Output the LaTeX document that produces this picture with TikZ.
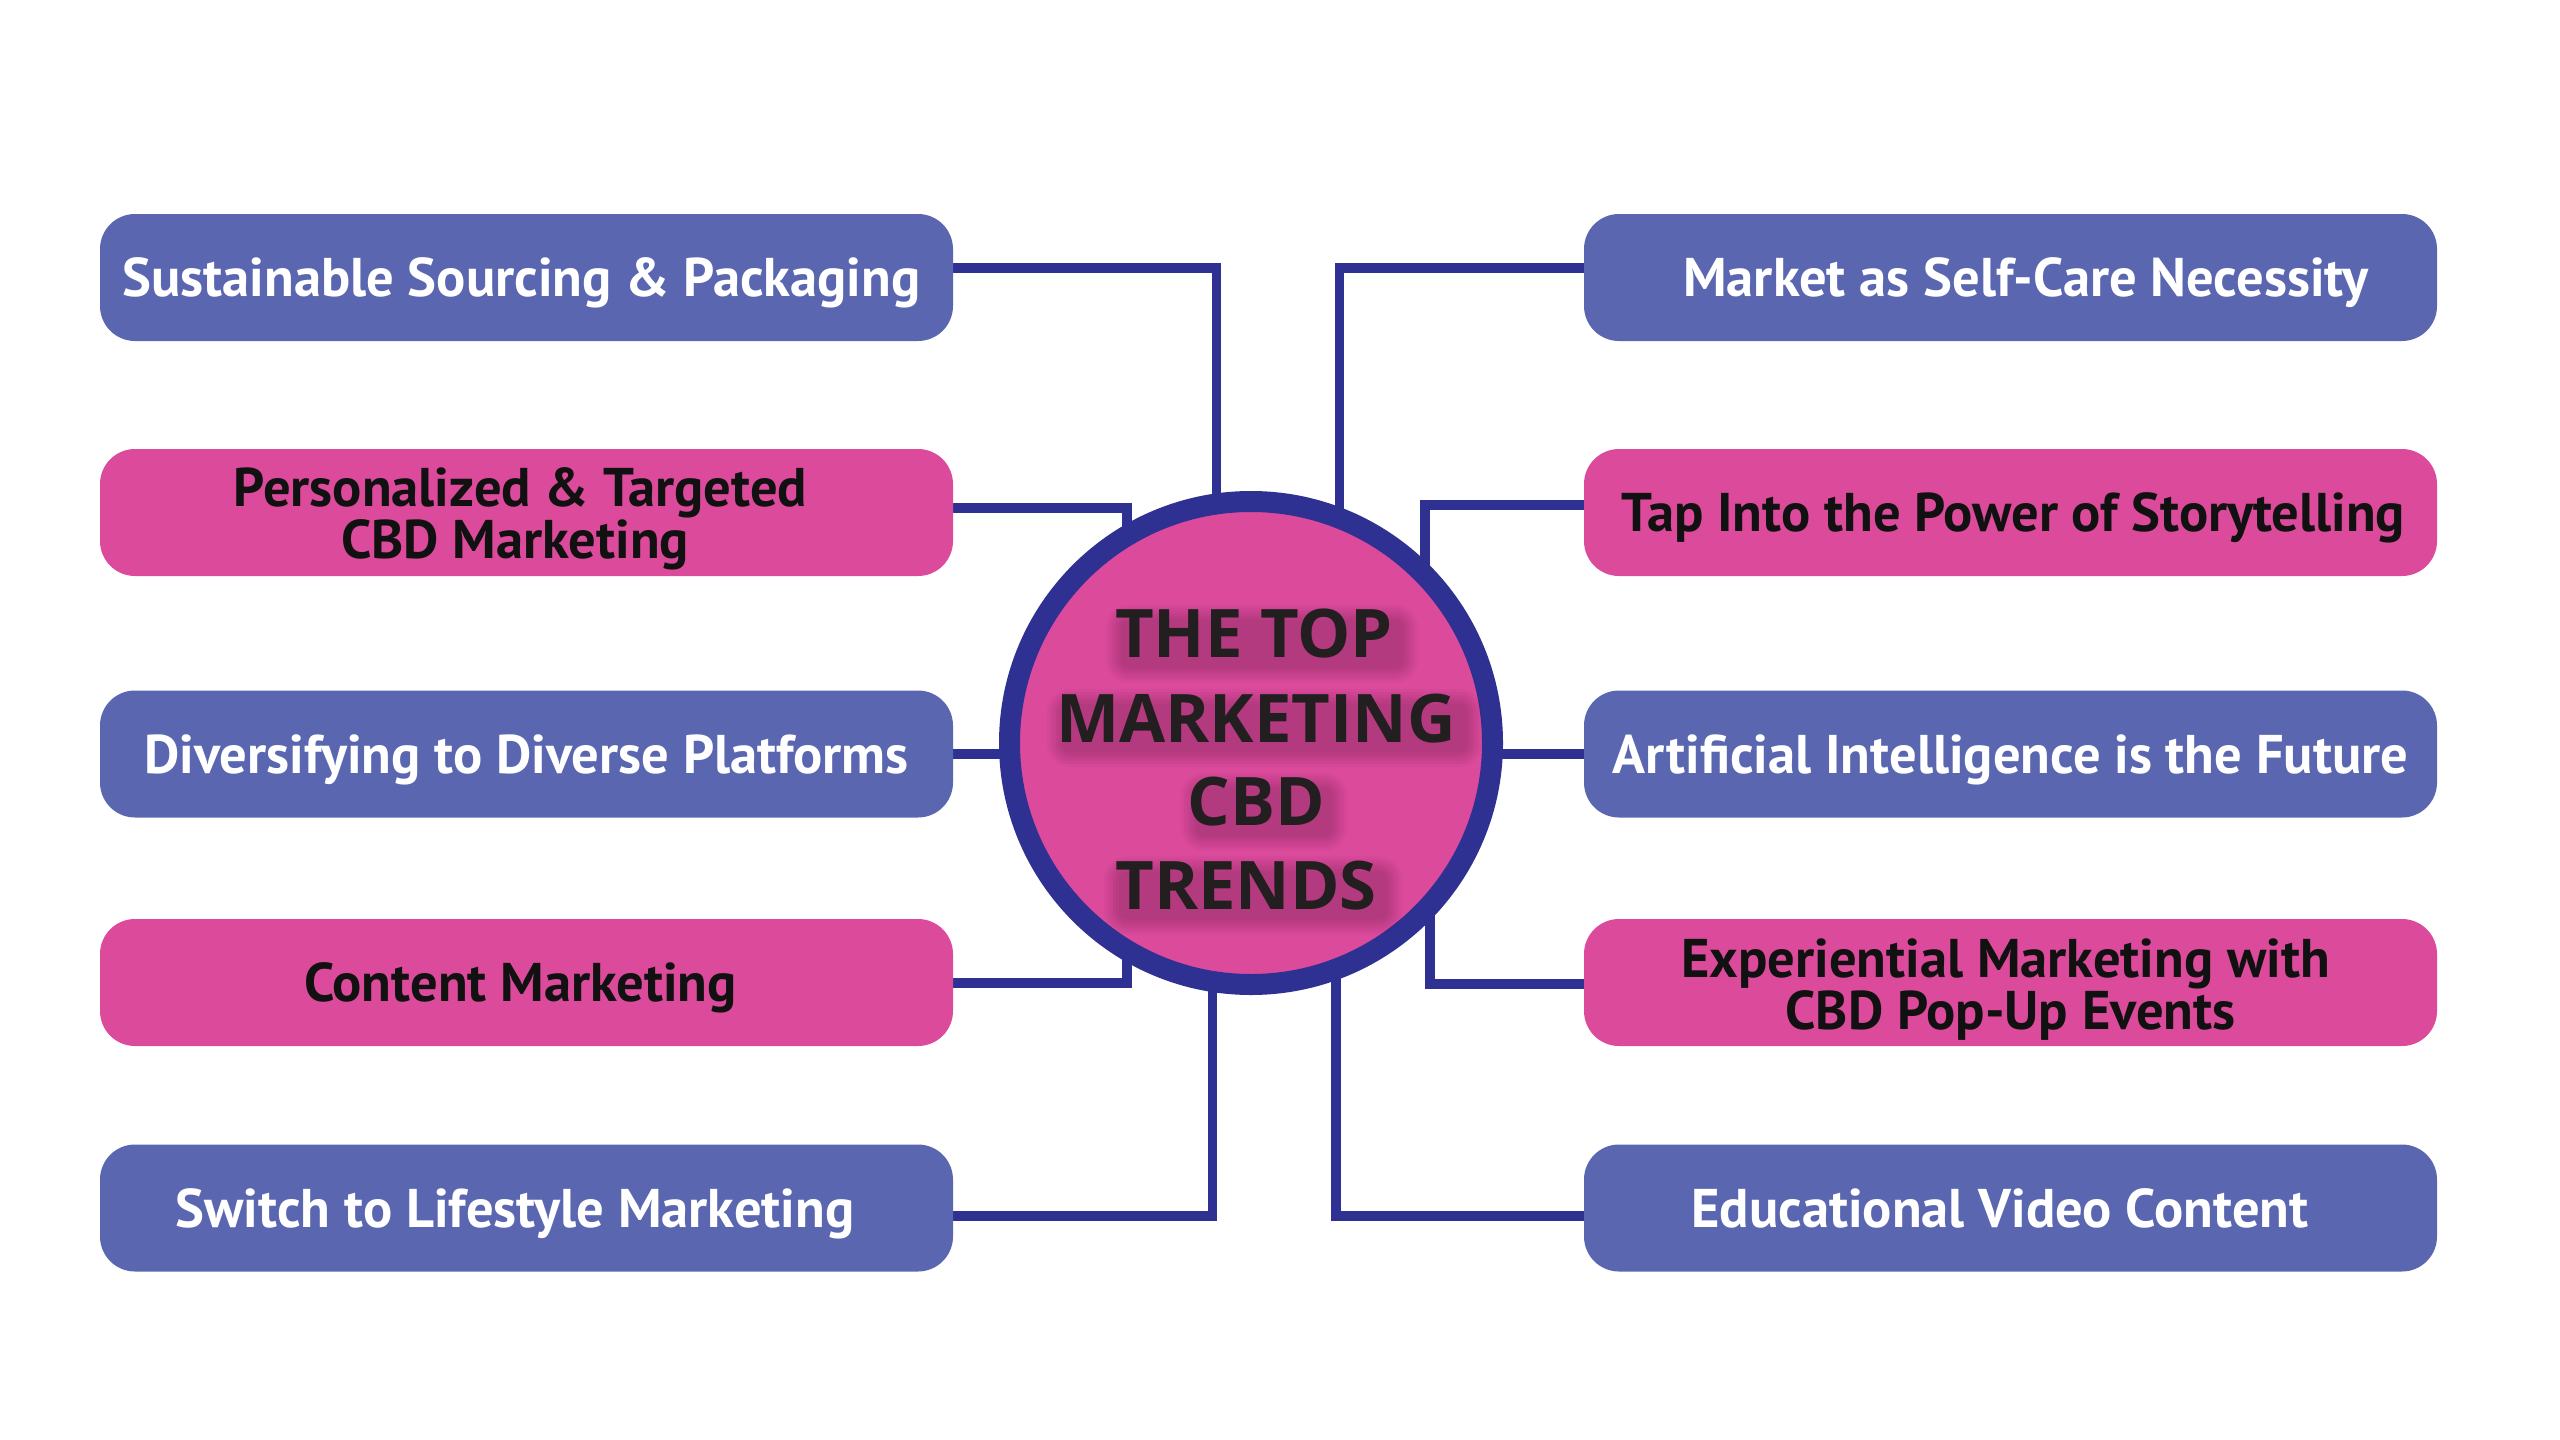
\documentclass[tikz,border=0pt]{standalone}
\usepackage{fontspec}
\usetikzlibrary{backgrounds}
\setmainfont{PT Sans}
\newfontfamily\circfont{Open Sans}
\definecolor{boxblue}{HTML}{5A67B0}
\definecolor{boxpink}{HTML}{DC4A9C}
\definecolor{navy}{HTML}{2E3192}
\definecolor{textdark}{HTML}{111111}
\definecolor{circtext}{HTML}{231F20}
\begin{document}
\begin{tikzpicture}[x=1pt,y=-1pt,
  box/.style={rounded corners=35pt, minimum width=853pt, minimum height=127pt, inner sep=0pt, align=center,
    font=\fontsize{54.5}{52}\selectfont\bfseries},
  oneline/.style={text depth=0pt},
  bluebox/.style={box, fill=boxblue, text=white},
  pinkbox/.style={box, fill=boxpink, text=textdark},
  conn/.style={draw=navy, line width=9.5pt},
  hub/.style={circle, fill=boxpink, draw=navy, line width=21pt, minimum size=483pt, inner sep=0pt},
  hubtext/.style={anchor=base, inner sep=0pt, text=circtext, font=\circfont\fontsize{67}{70}\selectfont\bfseries},
  glow/.style={fill=black, fill opacity=0.03}
]
\useasboundingbox (0,0) rectangle (2560,1440);

% boxes
\node[bluebox, oneline] (L1) at (526.5,277.5) {\hspace*{-10pt}Sustainable Sourcing \& Packaging};
\node[pinkbox] (L2) at (526.5,512.5) {\rule{0pt}{52pt}\hspace*{-12pt}Personalized \& Targeted\\\hspace*{-23pt}CBD Marketing};
\node[bluebox, oneline] (L3) at (526.5,754) {Diversifying to Diverse Platforms};
\node[pinkbox, oneline] (L4) at (526.5,982.5) {\hspace*{-12pt}Content Marketing};
\node[bluebox, oneline] (L5) at (526.5,1208) {\hspace*{-23pt}Switch to Lifestyle Marketing};
\node[bluebox, oneline] (R1) at (2010.5,277.5) {\hspace*{31pt}Market as Self-Care Necessity};
\node[pinkbox, oneline] (R2) at (2010.5,512.5) {\hspace*{6pt}Tap Into the Power of Storytelling};
\node[bluebox, oneline] (R3) at (2010.5,754) {Artificial Intelligence is the Future};
\node[pinkbox] (R4) at (2010.5,982.5) {\rule{0pt}{52pt}\hspace*{-10pt}Experiential Marketing with\\CBD Pop-Up Events};
\node[bluebox, oneline] (R5) at (2010.5,1208) {\hspace*{-21pt}Educational Video Content};

% hub
\node[hub] (C) at (1251,743) {};

% soft shadow behind the hub lettering
\foreach \e in {0,3,6,9,12,15} {
  \fill[glow, rounded corners=\e+8] (1113+8-\e,609.6+10-\e) rectangle (1395+8+\e,657.6+10+\e);
  \fill[glow, rounded corners=\e+8] (1054+8-\e,694+10-\e) rectangle (1459+8+\e,742+10+\e);
  \fill[glow, rounded corners=\e+8] (1188+8-\e,777.7+10-\e) rectangle (1324+8+\e,825.7+10+\e);
  \fill[glow, rounded corners=\e+8] (1111+8-\e,861.4+10-\e) rectangle (1379+8+\e,909.4+10+\e);
}

% hidden junctions inside the hub
\coordinate (jL1) at (1216.5,700);
\coordinate (jL2) at (1127,700);
\coordinate (jL3) at (1150,754);
\coordinate (jL4) at (1127,800);
\coordinate (jL5) at (1212.5,800);
\coordinate (jR1) at (1339.5,700);
\coordinate (jR2) at (1425,700);
\coordinate (jR3) at (1350,754);
\coordinate (jR4) at (1430,800);
\coordinate (jR5) at (1336,800);

\begin{scope}[on background layer]
\fill[white] (0,0) rectangle (2560,1440);
\draw[conn] (L1.east |- 0,268) -| (jL1);
\draw[conn] (L2.east |- 0,508) -| (jL2);
\draw[conn] (L3.east |- 0,754) -- (jL3);
\draw[conn] (L4.east |- 0,983) -| (jL4);
\draw[conn] (L5.east |- 0,1216) -| (jL5);
\draw[conn] (R1.west |- 0,268) -| (jR1);
\draw[conn] (R2.west |- 0,505) -| (jR2);
\draw[conn] (R3.west |- 0,754) -- (jR3);
\draw[conn] (R4.west |- 0,984) -| (jR4);
\draw[conn] (R5.west |- 0,1216) -| (jR5);
\end{scope}

\node[hubtext] (t1) at (1254,657.6) {THE TOP};
\node[hubtext] (t2) at (1256,742) {MARKETING};
\node[hubtext] (t3) at (1256,825.7) {CBD};
\node[hubtext] (t4) at (1246,909.4) {TRENDS};
\end{tikzpicture}
\end{document}
